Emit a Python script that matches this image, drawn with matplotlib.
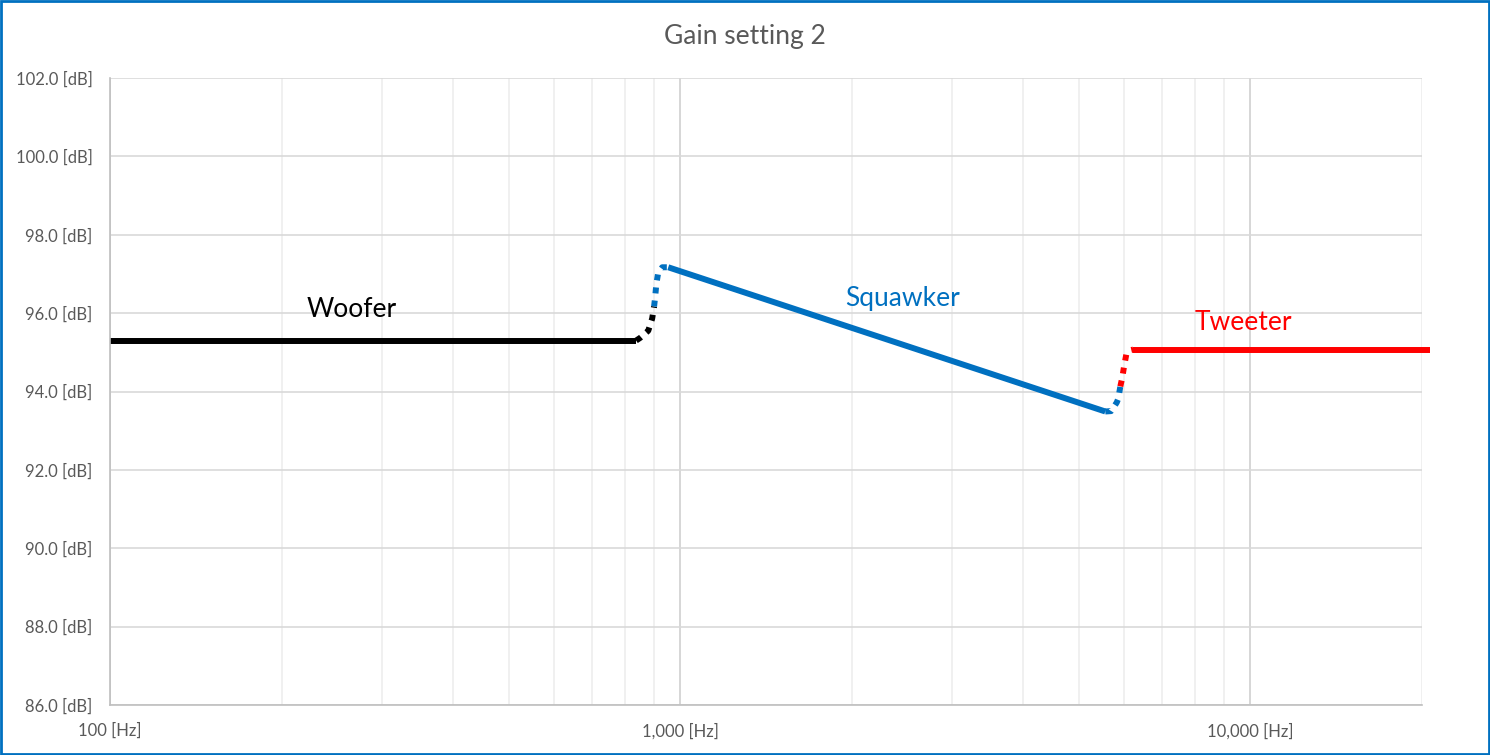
import matplotlib
matplotlib.use('Agg')
import matplotlib.pyplot as plt
from matplotlib.patches import Rectangle
from matplotlib.ticker import FixedLocator, FuncFormatter, NullFormatter

plt.rcParams['font.family'] = ['Lato', 'DejaVu Sans']

# --- data (frequency in Hz, level in dB) ---
woofer_f = [100, 837]
woofer_db = [95.3, 95.3]
woofer_xover_f = [837, 851, 879, 893, 900]
woofer_xover_db = [95.3, 95.37, 95.55, 95.86, 96.17]

squawker_lo_f = [900, 904, 908, 915, 930, 953]
squawker_lo_db = [96.17, 96.42, 96.73, 97.03, 97.17, 97.17]
squawker_f = [953, 5566]
squawker_db = [97.17, 93.49]
squawker_hi_f = [5566, 5700, 5830, 5867, 5915]
squawker_hi_db = [93.49, 93.50, 93.72, 93.82, 94.13]

tweeter_xover_f = [5915, 5963, 6000, 6060, 6150, 6233]
tweeter_xover_db = [94.13, 94.36, 94.61, 94.95, 95.05, 95.07]
tweeter_f = [6233, 20650]
tweeter_db = [95.07, 95.07]

y_ticks = [86, 88, 90, 92, 94, 96, 98, 100, 102]
x_major = [100, 1000, 10000]
x_minor = [200, 300, 400, 500, 600, 700, 800, 900,
           2000, 3000, 4000, 5000, 6000, 7000, 8000, 9000, 20000]

BLACK = '#000000'
BLUE = '#0070C0'
RED = '#FF0000'
GREY_TXT = '#595959'

fig = plt.figure(figsize=(14.9, 7.55), dpi=100)
ax = fig.add_axes([110 / 1490, 1 - 705 / 755, 1312 / 1490, 627 / 755])

lw = 4.3
dot = (0, (1, 1.2))
ax.plot(woofer_f, woofer_db, color=BLACK, lw=lw, solid_capstyle='butt')
ax.plot(woofer_xover_f, woofer_xover_db, color=BLACK, lw=lw, ls=dot, dash_capstyle='butt')
ax.plot(squawker_lo_f, squawker_lo_db, color=BLUE, lw=lw, ls=dot, dash_capstyle='butt')
ax.plot(squawker_f, squawker_db, color=BLUE, lw=lw, solid_capstyle='butt')
ax.plot(squawker_hi_f, squawker_hi_db, color=BLUE, lw=lw, ls=dot, dash_capstyle='butt')
ax.plot(tweeter_xover_f, tweeter_xover_db, color=RED, lw=lw, ls=dot, dash_capstyle='butt')
ax.plot(tweeter_f, tweeter_db, color=RED, lw=lw, solid_capstyle='butt', clip_on=False)

ax.set_xscale('log')
ax.set_xlim(100, 20000)
ax.set_ylim(86, 102)

ax.xaxis.set_major_locator(FixedLocator(x_major))
ax.xaxis.set_minor_locator(FixedLocator(x_minor))
ax.xaxis.set_major_formatter(FuncFormatter(lambda v, p: f'{v:,.0f} [Hz]'))
ax.xaxis.set_minor_formatter(NullFormatter())
ax.set_yticks(y_ticks)
ax.yaxis.set_major_formatter(FuncFormatter(lambda v, p: f'{v:.1f} [dB]'))

ax.grid(True, which='major', axis='y', color='#D9D9D9', lw=1.2)
ax.grid(True, which='major', axis='x', color='#D0D0D0', lw=1.2)
ax.grid(True, which='minor', axis='x', color='#EEEEEE', lw=1.2)
ax.set_axisbelow(True)

for side in ['top', 'right']:
    ax.spines[side].set_visible(False)
for side in ['left', 'bottom']:
    ax.spines[side].set_color('#BFBFBF')
    ax.spines[side].set_linewidth(1.2)

ax.tick_params(axis='both', which='both', length=0, labelsize=12, labelcolor=GREY_TXT)
ax.tick_params(axis='x', pad=13)
ax.tick_params(axis='y', pad=12.5)

ax.text(265, 95.89, 'Woofer', color=BLACK, fontsize=19, ha='center', va='baseline')
ax.text(2452, 96.17, 'Squawker', color=BLUE, fontsize=19, ha='center', va='baseline')
ax.text(9720, 95.58, 'Tweeter', color=RED, fontsize=19, ha='center', va='baseline')

fig.text(0.5, 1 - 44 / 755, 'Gain setting 2', color=GREY_TXT, fontsize=19,
         ha='center', va='baseline')

fig.patches.append(Rectangle((0.001, 0.0015), 0.998, 0.997, transform=fig.transFigure,
                             fill=False, edgecolor=BLUE, lw=2))

fig.savefig('out.png', dpi=100, facecolor='white')
